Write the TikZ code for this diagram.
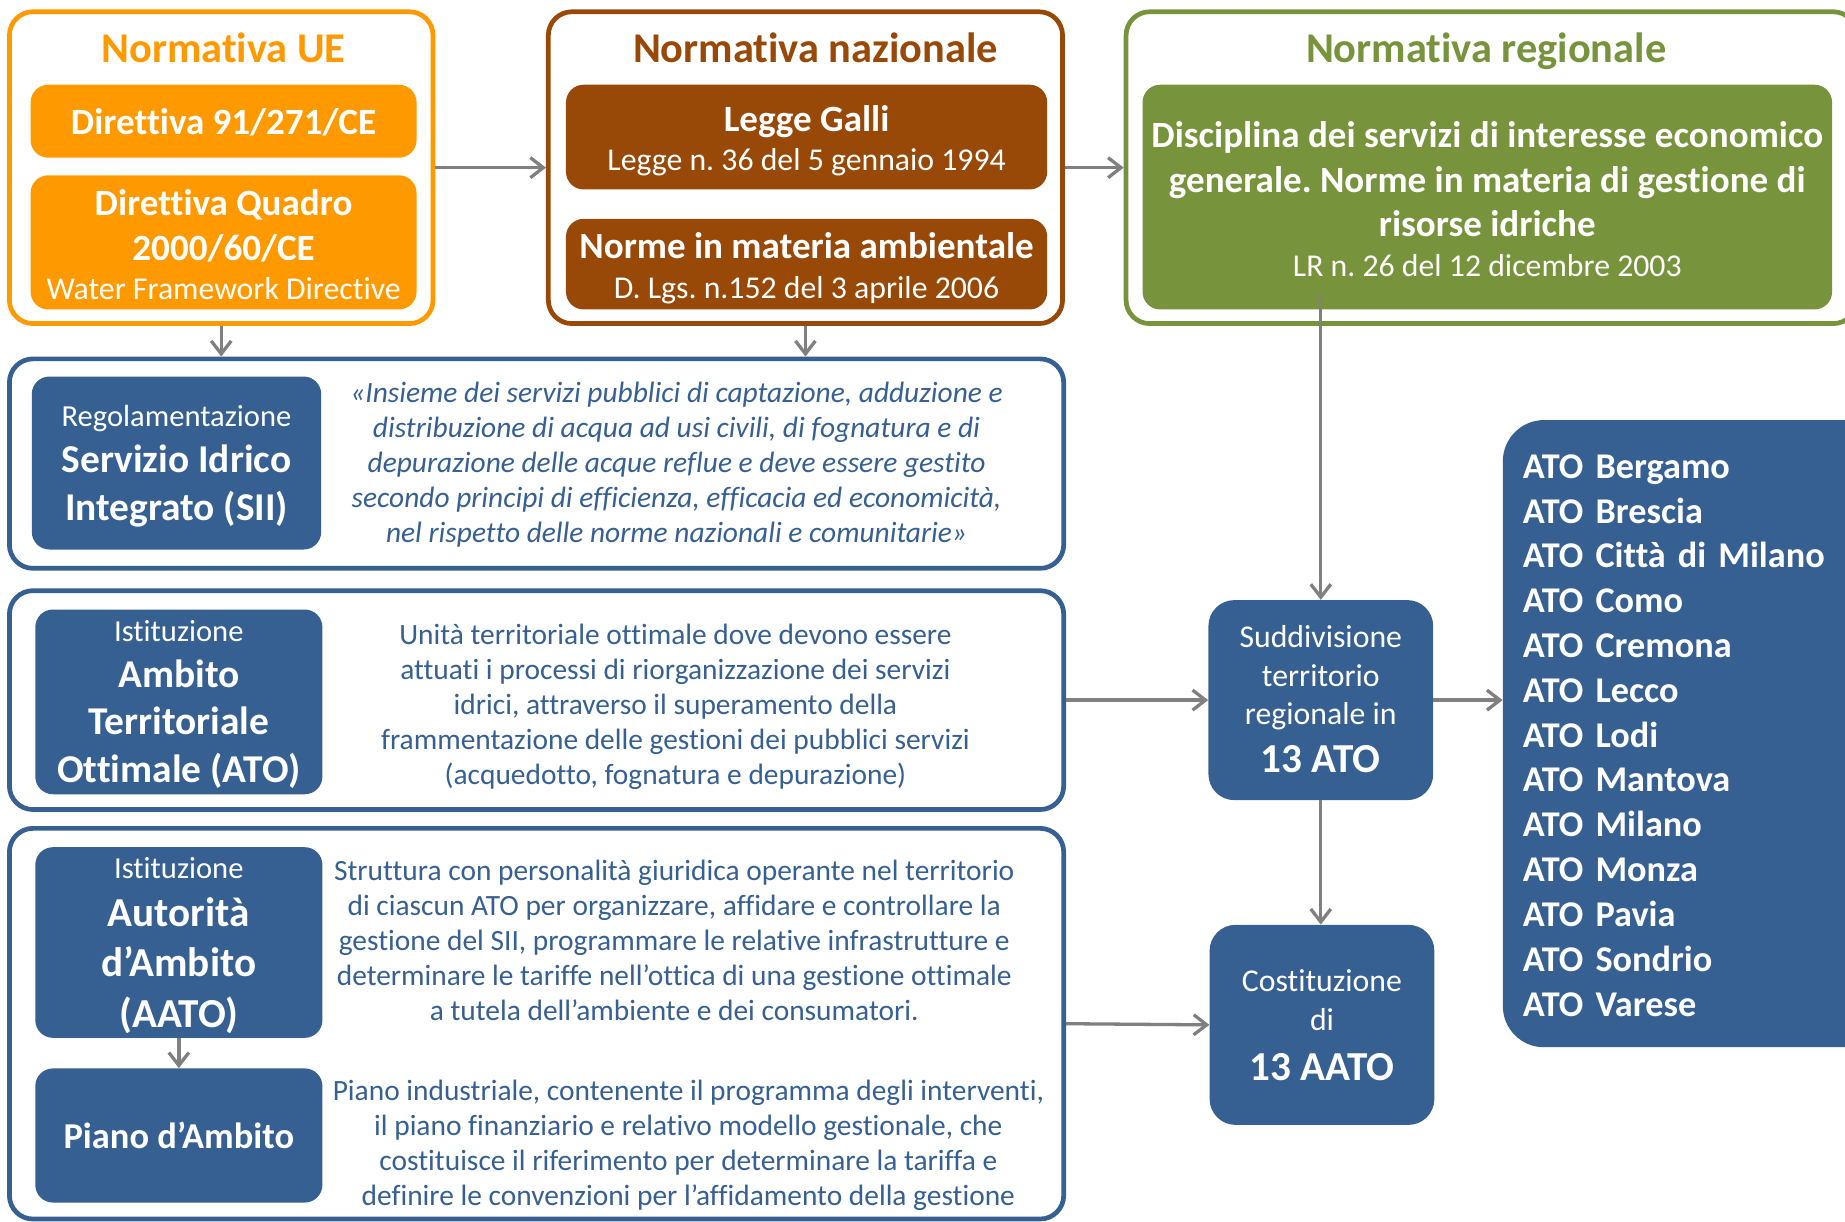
\documentclass[tikz,border=0pt]{standalone}
\usepackage{fontspec}
\setmainfont{Carlito}[Ligatures={TeX,NoCommon}]
\usetikzlibrary{arrows.meta}

\definecolor{ueorange}{RGB}{255,153,0}
\definecolor{nazbrown}{RGB}{152,72,7}
\definecolor{reggreen}{RGB}{119,147,60}
\definecolor{sblue}{RGB}{54,96,146}
\definecolor{arrgray}{RGB}{128,128,128}

\newcommand{\fsz}[2]{\fontsize{#1}{#2}\selectfont}
% taller first line: pushes the text of a box down by #1/2
\newcommand{\lowr}[2]{\raisebox{0pt}[\dimexpr\height+#1\relax]{#2}}

\tikzset{
        normframe/.style={draw=#1, line width=4pt, rounded corners=20pt, fill=white, inner sep=0pt},
        fillbox/.style={fill=#1, rounded corners=15pt, text=white, align=center, inner sep=0pt},
        descr/.style={text=sblue, align=center, inner sep=0pt, font=\fsz{25}{29.75}},
        arr/.style={draw=arrgray, line width=2.8pt, -{Straight Barb[length=11pt,width=17pt]}}
}

\begin{document}
\frenchspacing
\begin{tikzpicture}[x=1pt,y=-1pt]
        \path[use as bounding box, fill=white] (0,0) rectangle (1568,1038);
        % normativa UE
        \node[normframe=ueorange, minimum width=360pt, minimum height=265pt] (ueFrame) at (188,142.5) {};
        \node[anchor=base, text=ueorange, font=\fsz{36}{40}\bfseries] (ueTitle) at (190,53) {Normativa UE};
        \node[fillbox=ueorange, minimum width=328pt, minimum height=62pt, font=\fsz{31.5}{38}\bfseries] (dir91) at (190,103)
          {\lowr{2pt}{Direttiva 91/271/CE}};
        \node[fillbox=ueorange, minimum width=328pt, minimum height=114pt, font=\fsz{31.5}{38}\bfseries] (dirQuadro) at (190,206)
          {\lowr{4pt}{Direttiva Quadro}\\2000/60/CE\\[-4.5pt]{\fsz{27}{33}\mdseries Water Framework Directive}};
        % normativa nazionale
        \node[normframe=nazbrown, minimum width=437pt, minimum height=265pt] (nazFrame) at (684.5,142.5) {};
        \node[anchor=base, text=nazbrown, font=\fsz{36}{40}\bfseries] (nazTitle) at (693,53) {Normativa nazionale};
        \node[fillbox=nazbrown, minimum width=409pt, minimum height=89pt, font=\fsz{31.5}{38}\bfseries] (galli) at (685.5,116.5)
          {\lowr{6pt}{Legge Galli}\\[-4.5pt]{\fsz{27}{33}\mdseries Legge n. 36 del 5 gennaio 1994}};
        \node[fillbox=nazbrown, minimum width=409pt, minimum height=77pt, font=\fsz{31.5}{38}\bfseries] (normeAmb) at (685.5,224.5)
          {\lowr{7pt}{Norme in materia ambientale}\\[-4.5pt]{\fsz{27}{33}\mdseries D. Lgs. n.152 del 3 aprile 2006}};
        % normativa regionale
        \node[normframe=reggreen, minimum width=621pt, minimum height=265pt] (regFrame) at (1267.5,142.5) {};
        \node[anchor=base, text=reggreen, font=\fsz{36}{40}\bfseries] (regTitle) at (1263,53) {Normativa regionale};
        \node[fillbox=reggreen, minimum width=586pt, minimum height=191pt, font=\fsz{31.5}{38}\bfseries] (regBox) at (1264,167.5)
          {\lowr{3pt}{Disciplina dei servizi di interesse economico}\\generale. Norme in materia di gestione di\\risorse idriche\\[-4.5pt]{\fsz{27}{33}\mdseries LR n. 26 del 12 dicembre 2003}};

        % SII
        \node[normframe=sblue, minimum width=896pt, minimum height=178pt] (siiFrame) at (456,394) {};
        \node[fillbox=sblue, minimum width=246pt, minimum height=147pt, font=\fsz{33.5}{41}\bfseries] (siiBox) at (150,393.5)
          {\lowr{6pt}{\fsz{26}{30}\mdseries Regolamentazione}\\[-2pt]Servizio Idrico\\Integrato (SII)};
        \node[descr, font=\fsz{25}{29.75}\itshape] (siiText) at (575,394.5)
          {«Insieme dei servizi pubblici di captazione, adduzione e\\distribuzione di acqua ad usi civili, di fognatura e di\\depurazione delle acque reflue e deve essere gestito\\secondo principi di efficienza, efficacia ed economicità,\\nel rispetto delle norme nazionali e comunitarie»};
        % ATO
        \node[normframe=sblue, minimum width=896pt, minimum height=186pt] (atoFrame) at (456,595) {};
        \node[fillbox=sblue, minimum width=244pt, minimum height=157pt, font=\fsz{33.5}{40.5}\bfseries] (atoBox) at (152,596.5)
          {\lowr{4pt}{\fsz{26}{30}\mdseries Istituzione}\\[-1.5pt]Ambito\\Territoriale\\Ottimale (ATO)};
        \node[descr] (atoText) at (574,600.5)
          {Unità territoriale ottimale dove devono essere\\attuati i processi di riorganizzazione dei servizi\\idrici, attraverso il superamento della\\frammentazione delle gestioni dei pubblici servizi\\(acquedotto, fognatura e depurazione)};
        % AATO e piano d'ambito
        \node[normframe=sblue, minimum width=896pt, minimum height=332pt] (aatoFrame) at (456,870) {};
        \node[fillbox=sblue, minimum width=244pt, minimum height=162pt, font=\fsz{35}{43}\bfseries] (aatoBox) at (152,801)
          {\lowr{5pt}{\fsz{26}{30}\mdseries Istituzione}\\[-2.5pt]Autorità\\d’Ambito\\(AATO)};
        \node[descr] (aatoText) at (573,799)
          {Struttura con personalità giuridica operante nel territorio\\di ciascun ATO per organizzare, affidare e controllare la\\gestione del SII, programmare le relative infrastrutture e\\determinare le tariffe nell’ottica di una gestione ottimale\\a tutela dell’ambiente e dei consumatori.};
        \node[fillbox=sblue, minimum width=244pt, minimum height=114pt, font=\fsz{31}{38}\bfseries] (pianoBox) at (152,965) {Piano d’Ambito};
        \node[descr] (pianoText) at (585,973.5)
          {Piano industriale, contenente il programma degli interventi,\\il piano finanziario e relativo modello gestionale, che\\costituisce il riferimento per determinare la tariffa e\\definire le convenzioni per l’affidamento della gestione};

        % suddivisione, costituzione, elenco ATO
        \node[fillbox=sblue, rounded corners=22pt, minimum width=191pt, minimum height=170pt, font=\fsz{27}{33}] (sudBox) at (1122.5,595)
          {Suddivisione\\territorio\\regionale in\\[7.5pt]{\fsz{35}{40}\bfseries\raisebox{0pt}[\height][\dimexpr\depth+2pt\relax]{13 ATO}}};
        \node[fillbox=sblue, rounded corners=22pt, minimum width=191pt, minimum height=170pt, font=\fsz{27}{33}] (costBox) at (1123.5,871)
          {Costituzione\\di\\[9.5pt]{\fsz{35}{40}\bfseries 13 AATO}};
        \node[fillbox=sblue, rounded corners=35pt, anchor=west, align=left, text width=290pt, inner xsep=17pt, minimum height=533pt, font=\fsz{30.8}{38.1}\bfseries] (atoList) at (1277,623.5)
          {\lowr{3pt}{ATO Bergamo}\\ATO Brescia\\ATO Città di Milano\\ATO Como\\ATO Cremona\\ATO Lecco\\ATO Lodi\\ATO Mantova\\ATO Milano\\ATO Monza\\ATO Pavia\\ATO Sondrio\\ATO Varese};

        % frecce
        \draw[arr] (ueFrame.east) -- (nazFrame.west);
        \draw[arr] (nazFrame.east) -- (regFrame.west);
        \draw[arr] (ueFrame.south) -- (ueFrame.south |- siiFrame.north);
        \draw[arr] (nazFrame.south) -- (nazFrame.south |- siiFrame.north);
        \coordinate (regTap) at ([yshift=13pt]regBox.south -| sudBox.north);
        \draw[arr] (regTap) -- (sudBox.north);
        \draw[arr] (atoFrame.east) -- (sudBox.west);
        \draw[arr] (sudBox.east) -- (sudBox.east -| atoList.west);
        \draw[arr] (sudBox.south) -- (sudBox.south |- costBox.north);
        \draw[arr] (aatoFrame.east) -- (costBox.west);
        \draw[arr] (aatoBox.south) -- (aatoBox.south |- pianoBox.north);
\end{tikzpicture}
\end{document}
